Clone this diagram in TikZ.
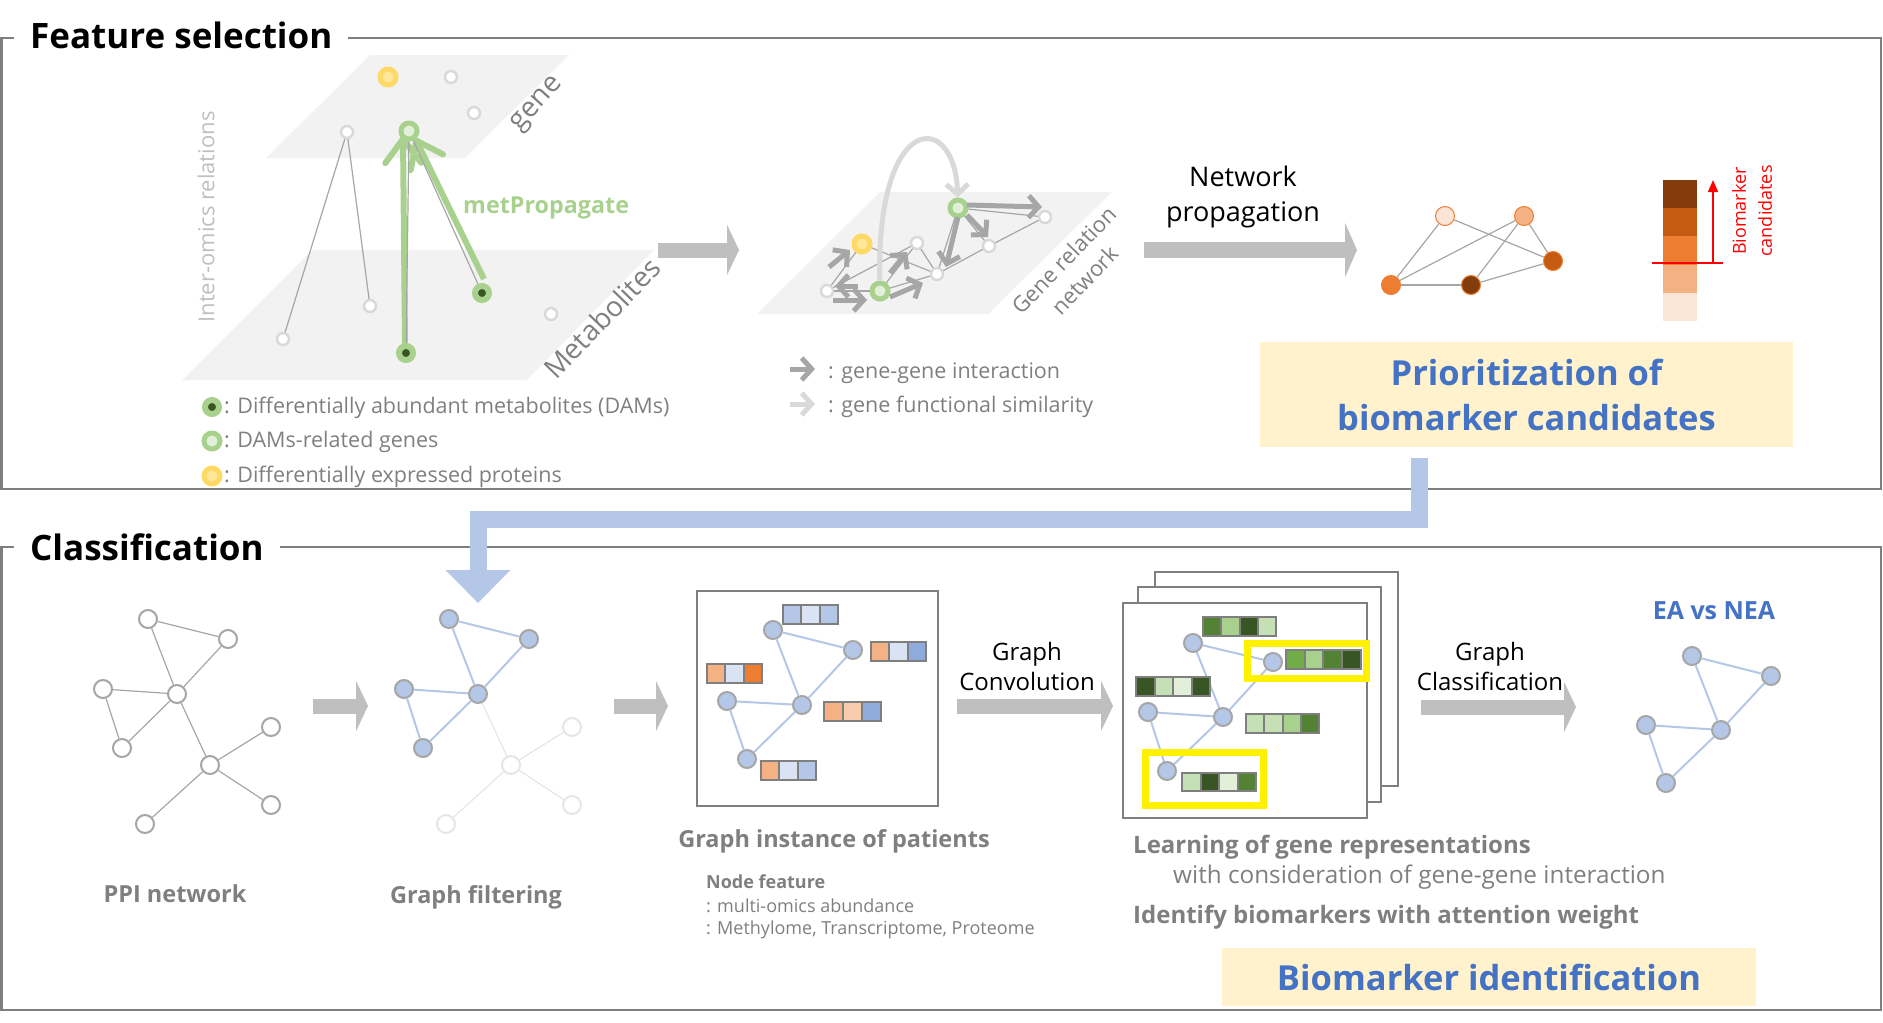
\documentclass[tikz,border=0pt]{standalone}
\usepackage{fontspec}
\setmainfont{Open Sans}
\usepackage{tikz}
\usetikzlibrary{arrows.meta,calc,positioning}
\usepackage{xcolor}
\definecolor{framegray}{HTML}{7F7F7F}
\definecolor{mist}{HTML}{F2F2F2}
\definecolor{leaf}{HTML}{A9D18E}
\definecolor{moss}{HTML}{375623}
\definecolor{fern}{HTML}{548235}
\definecolor{grass}{HTML}{70AD47}
\definecolor{sprout}{HTML}{C5E0B4}
\definecolor{mint}{HTML}{E2F0D9}
\definecolor{gold}{HTML}{FFD966}
\definecolor{butter}{HTML}{FFE699}
\definecolor{pebble}{HTML}{D9D9D9}
\definecolor{slate}{HTML}{A6A6A6}
\definecolor{ash}{HTML}{BFBFBF}
\definecolor{sky}{HTML}{B4C7E7}
\definecolor{frost}{HTML}{DAE3F3}
\definecolor{cornflower}{HTML}{8FAADC}
\definecolor{royal}{HTML}{4472C4}
\definecolor{cream}{HTML}{FFF2CC}
\definecolor{peach}{HTML}{FBE5D6}
\definecolor{apricot}{HTML}{F4B183}
\definecolor{salmon}{HTML}{F8CBAD}
\definecolor{tangerine}{HTML}{ED7D31}
\definecolor{rust}{HTML}{C55A11}
\definecolor{umber}{HTML}{843C0C}
\definecolor{ghost}{HTML}{E7E6E6}
\newcommand\fsz[2]{\fontsize{#1}{#2}\selectfont}
\newcommand\featbar[4]{\foreach \cc [count=\k from 0] in {#4}
  \draw[featcell,fill=\cc] ($(#1)+(\k*#2,0)$) rectangle ++(#2,#3);}
\tikzset{frameline/.style={draw=framegray,line width=2.5pt}, sectitle/.style={font=\fsz{35}{40}\bfseries,fill=white,inner xsep=16pt,inner ysep=3pt,anchor=base west},
layer/.style={fill=mist}, note/.style={text=framegray,font=\fsz{21.5}{26},inner sep=0pt},
blankdot/.style={circle,draw=pebble,fill=white,line width=2.5pt,minimum size=12pt,inner sep=0pt},
damdot/.style={circle,draw=leaf,fill=moss,line width=6pt,minimum size=14pt,inner sep=0pt},
genedot/.style={circle,draw=leaf,fill=mint,line width=5pt,minimum size=16pt,inner sep=0pt},
protdot/.style={circle,draw=gold,fill=butter,line width=5pt,minimum size=16pt,inner sep=0pt},
omicsline/.style={draw=slate,line width=1.2pt},
propagate/.style={draw=leaf,line width=6pt,-{Straight Barb[length=24pt,width=36pt,round]}},
ggarrow/.style={draw=slate,line width=5pt,-{Straight Barb[length=10pt,width=22pt]}},
simarrow/.style={draw=pebble,line width=5pt,-{Straight Barb[length=10pt,width=22pt]}},
blockarrow/.style={draw=ash,line width=15pt,-{Triangle[length=12pt,width=50pt]}},
steplabel/.style={font=\fsz{24}{30},align=center,inner sep=0pt},
rankdot/.style={circle,draw=tangerine,line width=1pt,minimum size=19pt,inner sep=0pt},
ppidot/.style={circle,draw=slate,fill=white,line width=2pt,minimum size=18pt,inner sep=0pt},
keptdot/.style={circle,draw=slate,fill=sky,line width=2pt,minimum size=18pt,inner sep=0pt},
dropdot/.style={circle,draw=ghost,fill=white,line width=2pt,minimum size=18pt,inner sep=0pt},
ppiedge/.style={draw=slate,line width=1.2pt}, keptedge/.style={draw=sky,line width=2pt}, dropedge/.style={draw=ghost,line width=1.2pt},
featcell/.style={draw=framegray,line width=2pt}, panel/.style={draw=framegray,fill=white,line width=2pt},
hilite/.style={draw=yellow,line width=7pt},
caption/.style={text=framegray,font=\fsz{23.5}{30}\bfseries,anchor=base,inner sep=0pt},
subcap/.style={text=framegray,font=\fsz{24.3}{30},anchor=base west,inner sep=0pt},
resultbox/.style={fill=cream,text=royal,font=\fsz{34.5}{45}\bfseries,align=center,inner sep=0pt},
feedarrow/.style={draw=sky,line width=17pt,line join=miter,-{Triangle[length=33pt,width=63pt]}}}

\begin{document}
\begin{tikzpicture}[x=1pt,y=-1pt]
\useasboundingbox (0,0) rectangle (1883,1023);
% section frames
\draw[frameline] (1.5,38) rectangle (1881,489);
\node[sectitle] (fstitle) at (14,48) {Feature selection};
\draw[frameline] (1.5,547) rectangle (1881,1010);
\node[sectitle] (cltitle) at (14,560) {Classification};

% two omics layers
\fill[layer] (312,250) -- (654,250) -- (527,380) -- (182,380) -- cycle;
\fill[layer] (370,55) -- (569,55) -- (465,158) -- (266,158) -- cycle;
\node[protdot] (dep1) at (388,77) {};
\node[blankdot] (gw1) at (451,77) {};
\node[blankdot] (gw2) at (474,113) {};
\node[blankdot] (gw3) at (347,132) {};
\node[genedot] (dg1) at (409,131) {};
\node[blankdot] (mw1) at (370,306) {};
\node[blankdot] (mw2) at (283,339) {};
\node[blankdot] (mw3) at (551,314) {};
\node[damdot] (dam1) at (406,353) {};
\node[damdot] (dam2) at (482,293) {};
\draw[omicsline] (gw3) -- (mw2);
\draw[omicsline] (gw3) -- (mw1);
\draw[propagate] ($(dam1)+(-1,-9)$) -- ($(dg1)+(-6,5)$);
\draw[propagate] ($(dam2)+(2,-14)$) -- ($(dg1)+(6,7)$);
\draw[omicsline] (dg1) -- (dam1);
\draw[omicsline] (dg1) -- (dam2);
\node[anchor=base west,text=leaf,font=\fsz{23.3}{28}\bfseries,inner sep=0pt] (mplab) at (463,213) {metPropagate};
\node[note,font=\fsz{28}{34},rotate=48] (genelab) at (538,105) {gene};
\node[note,font=\fsz{28}{34},rotate=46] (metlab) at (602,318) {Metabolites};
\node[note,text=ash,font=\fsz{22}{26},rotate=90] (iolab) at (206,217) {Inter-omics relations};

% legend of node colours
\node[damdot] (key1) at (212,407) {};
\node[note,anchor=base west] (keytext1) at (224,413) {: Differentially abundant metabolites (DAMs)};
\node[genedot] (key2) at (212,441) {};
\node[note,anchor=base west] (keytext2) at (224,447) {: DAMs-related genes};
\node[protdot] (key3) at (212,476) {};
\node[note,anchor=base west] (keytext3) at (224,482) {: Differentially expressed proteins};

\coordinate (a1s) at (658,250);
\coordinate (a1e) at (739,250);
\draw[blockarrow] (a1s) -- (a1e);

% gene relation network
\fill[layer] (880,192) -- (1112,192) -- (988,314) -- (757,314) -- cycle;
\node[protdot] (ry) at (862,244) {};
\node[blankdot] (rw1) at (827,291) {};
\node[genedot] (rg1) at (880,291) {};
\node[blankdot] (rw2) at (917,243) {};
\node[blankdot] (rw3) at (937,274) {};
\node[genedot] (rg2) at (958,208) {};
\node[blankdot] (rw4) at (989,246) {};
\node[blankdot] (rw5) at (1045,217) {};
\foreach \a/\b in {ry/rw1,rw1/rw2,rw1/rg1,rg1/rw2,rg1/rw3,rw2/rw3,ry/rw3,rw3/rg2,rw3/rw4,rw4/rw5,rg2/rw4,rg2/rw5}
  \draw[omicsline] (\a) -- (\b);
\draw[simarrow] (rg1) .. controls (876,110) and (955,110) .. (rg2);
\draw[ggarrow] ($(rg2)+(9,-3)$) -- ($(rw5)+(-3,-10)$);
\draw[ggarrow] ($(rg2)+(9,7)$) -- ($(rw4)+(-1,-9)$);
\draw[ggarrow] ($(rg2)+(0,9)$) -- ($(rw3)+(9,-7)$);
\draw[ggarrow] ($(rg1)+(-22,-5)$) -- ($(rw1)+(8,-5)$);
\draw[ggarrow] ($(rw1)+(6,9)$) -- ($(rg1)+(-13,9)$);
\draw[ggarrow] ($(rw1)+(2,-24)$) -- ($(ry)+(-12,6)$);
\draw[ggarrow] ($(rg1)+(10,-18)$) -- ($(rw2)+(-10,9)$);
\draw[ggarrow] ($(rg1)+(10,6)$) -- ($(rw3)+(-14,9)$);
\node[note,font=\fsz{22}{29},rotate=46,align=center] (grnlab) at (1074,270) {Gene relation\\network};
\draw[ggarrow] (790,369) -- (815,369);
\node[note,anchor=base west] (ggtext) at (828,378) {: gene-gene interaction};
\draw[simarrow] (790,404) -- (815,404);
\node[note,anchor=base west] (simtext) at (828,412) {: gene functional similarity};

% network propagation
\coordinate (a2s) at (1144,250);
\coordinate (a2e) at (1357,250);
\draw[blockarrow,line width=16pt,-{Triangle[length=12pt,width=54pt]}] (a2s) -- (a2e);
\node[steplabel,font=\fsz{27}{35}] (nplab) at (1243,197) {Network\\propagation};
\node[rankdot,fill=peach] (pn1) at (1445,216) {};
\node[rankdot,fill=apricot] (pn2) at (1524,216) {};
\node[rankdot,fill=rust] (pn3) at (1553,261) {};
\node[rankdot,fill=tangerine] (pn4) at (1391,285) {};
\node[rankdot,fill=umber] (pn5) at (1471,285) {};
\foreach \a/\b in {pn1/pn4,pn1/pn3,pn2/pn4,pn2/pn5,pn2/pn3,pn4/pn5,pn5/pn3}
  \draw[omicsline] (\a) -- (\b);
\foreach \cc [count=\k from 0] in {umber,rust,tangerine,apricot,peach}
  \fill[\cc] (1663,180+\k*28.2) rectangle ++(34,28.2);
\coordinate (cutL) at (1652,263);
\coordinate (cutR) at (1723,263);
\draw[red,line width=1.5pt] (cutL) -- (cutR);
\draw[red,line width=1.5pt,-{Triangle[length=12pt,width=10pt]}] (1713,263) -- (1713,180);
\node[text=red,font=\fsz{18}{26},rotate=90,align=center,inner sep=0pt] (candlab) at (1752,211) {Biomarker\\candidates};
\node[resultbox,minimum width=533pt,minimum height=105pt] (prio) at (1526.5,394.5) {Prioritization of\\biomarker candidates};

% PPI network and filtering
\foreach \nm/\px/\py in {1/148/619,2/228/639,3/103/689,4/177/694,5/122/748,6/210/765,7/271/727,8/271/805,9/145/824}
  \node[ppidot] (q\nm) at (\px,\py) {};
\foreach \a/\b in {1/2,1/4,2/4,3/4,3/5,4/5,4/6,6/7,6/8,6/9}
  \draw[ppiedge] (q\a) -- (q\b);
\node[caption] (ppilab) at (175,902) {PPI network};
\coordinate (a3s) at (313,706);
\coordinate (a3e) at (368,706);
\draw[blockarrow] (a3s) -- (a3e);
\foreach \nm/\px/\py in {1/449/619,2/529/639,3/404/689,4/478/694,5/423/748}
  \node[keptdot] (f\nm) at (\px,\py) {};
\foreach \nm/\px/\py in {6/511/765,7/572/727,8/572/805,9/446/824}
  \node[dropdot] (f\nm) at (\px,\py) {};
\foreach \a/\b in {4/6,6/7,6/8,6/9}
  \draw[dropedge] (f\a) -- (f\b);
\foreach \a/\b in {1/2,1/4,2/4,3/4,3/5,4/5}
  \draw[keptedge] (f\a) -- (f\b);
\node[caption] (filtlab) at (476,903) {Graph filtering};
\coordinate (a4s) at (614,706);
\coordinate (a4e) at (668,706);
\draw[blockarrow] (a4s) -- (a4e);

% graph instance of patients
\draw[panel] (697,591) rectangle (938,806);
\foreach \nm/\px/\py in {1/773/630,2/853/650,3/727/701,4/802/705,5/747/759}
  \node[keptdot] (gi\nm) at (\px,\py) {};
\foreach \a/\b in {1/2,1/4,2/4,3/4,3/5,4/5}
  \draw[keptedge] (gi\a) -- (gi\b);
\featbar{783,605}{18.3}{18.5}{sky,frost,sky}
\featbar{871,642}{18.3}{18.5}{apricot,frost,cornflower}
\featbar{707,664}{18.3}{18.5}{apricot,frost,tangerine}
\featbar{824,702}{19}{18.5}{apricot,salmon,cornflower}
\featbar{761,761}{18.3}{18.5}{apricot,frost,sky}
\node[caption] (instlab) at (834,847) {Graph instance of patients};
\node[text=framegray,font=\fsz{18}{22}\bfseries,anchor=base west,inner sep=0pt] (nflab) at (706,888) {Node feature};
\node[text=framegray,font=\fsz{18}{22},anchor=base west,inner sep=0pt] (nfline1) at (706,912) {: multi-omics abundance};
\node[text=framegray,font=\fsz{18}{22},anchor=base west,inner sep=0pt] (nfline2) at (706,934) {: Methylome, Transcriptome, Proteome};
\coordinate (a5s) at (957,706);
\coordinate (a5e) at (1113,706);
\draw[blockarrow] (a5s) -- (a5e);
\node[steplabel] (convlab) at (1027,666) {Graph\\Convolution};

% learning of gene representations
\draw[panel] (1155,572) rectangle (1398,786);
\draw[panel] (1138,587) rectangle (1381,802);
\draw[panel] (1123,603) rectangle (1367,818);
\foreach \nm/\px/\py in {1/1193/643,2/1273/662,3/1148/712,4/1223/717,5/1167/771}
  \coordinate (lc\nm) at (\px,\py);
\foreach \a/\b in {1/2,1/4,2/4,3/4,3/5,4/5}
  \draw[keptedge] (lc\a) -- (lc\b);
\draw[hilite] (1247,643) rectangle (1366,678);
\draw[hilite] (1145,752) rectangle (1263,805);
\foreach \nm in {1,...,5}
  \node[keptdot] (lg\nm) at (lc\nm) {};
\featbar{1203,617}{18.3}{19}{fern,leaf,moss,sprout}
\featbar{1286,650}{18.7}{19}{grass,leaf,fern,moss}
\featbar{1136,677}{18.5}{19}{moss,sprout,mint,moss}
\featbar{1246,714}{18.3}{19}{sprout,sprout,leaf,fern}
\featbar{1182,773}{18.5}{18}{sprout,moss,mint,fern}
\node[caption,anchor=base west,font=\fsz{24}{30}\bfseries] (learnlab) at (1133,853) {Learning of gene representations};
\node[subcap] (learnsub) at (1173,883) {with consideration of gene-gene interaction};
\node[caption,anchor=base west,font=\fsz{24}{30}\bfseries] (identlab) at (1133,923) {Identify biomarkers with attention weight};
\coordinate (a6s) at (1421,707);
\coordinate (a6e) at (1576,707);
\draw[blockarrow] (a6s) -- (a6e);
\node[steplabel] (clslab) at (1490,666) {Graph\\Classification};

% EA vs NEA
\node[text=royal,font=\fsz{25}{30}\bfseries,anchor=base,inner sep=0pt] (ealab) at (1714,619) {EA vs NEA};
\foreach \nm/\px/\py in {1/1692/656,2/1771/676,3/1646/725,4/1721/730,5/1666/783}
  \node[keptdot] (ea\nm) at (\px,\py) {};
\foreach \a/\b in {1/2,1/4,2/4,3/4,3/5,4/5}
  \draw[keptedge] (ea\a) -- (ea\b);
\node[resultbox,minimum width=534pt,minimum height=58pt] (bident) at (1489,977) {Biomarker identification};

% candidates feed the filtering step
\coordinate (feedtop) at ($(prio.south west)!0.3!(prio.south east)+(0,11)$);
\coordinate (feedend) at (478,603);
\draw[feedarrow] (feedtop) |- ($(feedend)+(0,-84)$) -- (feedend);
\end{tikzpicture}
\end{document}
